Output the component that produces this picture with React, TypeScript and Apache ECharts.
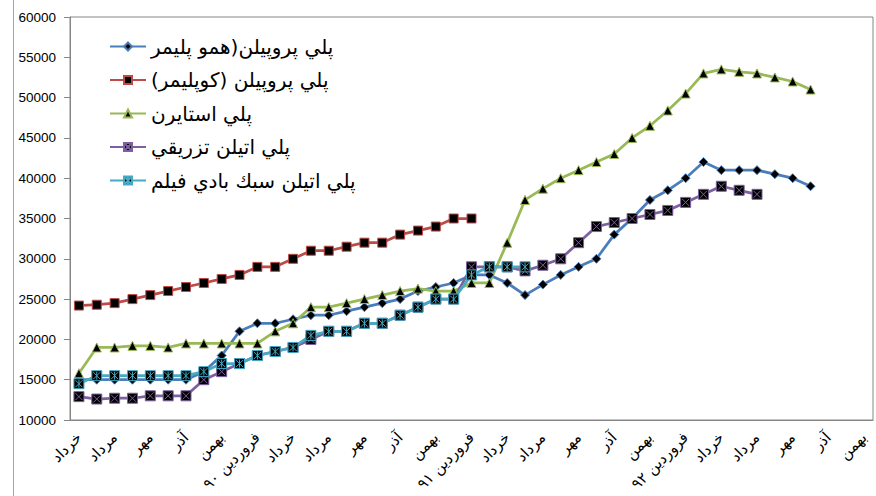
import { useEffect, useRef } from "react";
import * as echarts from "echarts";

// Monthly prices, Khordad 1389 through Bahman 1392
const months = [
  "خرداد", "تير", "مرداد", "شهريور", "مهر", "آبان", "آذر", "دي", "بهمن", "اسفند",
  "فروردين ۹۰", "ارديبهشت", "خرداد", "تير", "مرداد", "شهريور", "مهر", "آبان", "آذر", "دي", "بهمن", "اسفند",
  "فروردين ۹۱", "ارديبهشت", "خرداد", "تير", "مرداد", "شهريور", "مهر", "آبان", "آذر", "دي", "بهمن", "اسفند",
  "فروردين ۹۲", "ارديبهشت", "خرداد", "تير", "مرداد", "شهريور", "مهر", "آبان", "آذر", "دي", "بهمن",
];

const homoPP = [
  15000, 15000, 15000, 15000, 15000, 15000, 15000, 16000, 18000, 21000,
  22000, 22000, 22500, 23000, 23000, 23500, 24000, 24500, 25000, 26000,
  26500, 27000, 28000, 28000, 27000, 25500, 26800, 28000, 29000, 30000,
  33000, 35000, 37300, 38500, 40000, 42000, 41000, 41000, 41000, 40500,
  40000, 39000,
];

const copolymerPP = [
  24200, 24300, 24500, 25000, 25500, 26000, 26500, 27000, 27500, 28000,
  29000, 29000, 30000, 31000, 31000, 31500, 32000, 32000, 33000, 33500,
  34000, 35000, 35000,
];

const polystyrene = [
  15800, 19000, 19000, 19200, 19200, 19000, 19500, 19500, 19500, 19500,
  19500, 21000, 22000, 24000, 24000, 24500, 25000, 25500, 26000, 26300,
  26000, 26000, 27000, 27000, 32000, 37300, 38700, 40000, 41000, 42000,
  43000, 45000, 46500, 48400, 50500, 53000, 53500, 53200, 53000, 52500,
  52000, 51000,
];

const injectionPE = [
  12900, 12600, 12700, 12700, 13000, 13000, 13000, 15000, 16000, 17000,
  18000, 18500, 19000, 20000, 21000, 21000, 22000, 22000, 23000, 24000,
  25000, 25000, 29000, 29000, 29000, 28500, 29200, 30000, 32000, 34000,
  34500, 35000, 35500, 36000, 37000, 38000, 39000, 38500, 38000,
];

const filmPE = [
  14500, 15500, 15500, 15500, 15500, 15500, 15500, 16000, 17000, 17000,
  18000, 18500, 19000, 20500, 21000, 21000, 22000, 22000, 23000, 24000,
  25000, 25000, 28000, 29000, 29000, 29000,
];

const yMin = 10000;
const yMax = 60000;
const yStep = 5000;

// A trailing right-to-left mark keeps a closing parenthesis inside the RTL run
const seriesNames = [
  "پلي پروپيلن(همو پليمر",
  "پلي پروپيلن (كوپليمر)\u200F",
  "پلي استايرن",
  "پلي اتيلن تزريقي",
  "پلي اتيلن سبك بادي فيلم",
];

const crossBox = "path://M0,0H10V10H0Z M1.5,1.5L8.5,8.5 M8.5,1.5L1.5,8.5";
const starBox = "path://M0,0H10V10H0Z M1.5,1.5L8.5,8.5 M8.5,1.5L1.5,8.5 M5,1V9";

function lineSeries(name: string, data: number[], color: string, symbol: string, size: number) {
  return {
    type: "line",
    name,
    data,
    symbol,
    symbolSize: size,
    showAllSymbol: true,
    lineStyle: { color, width: 2.75 },
    itemStyle: { color: "#000000", borderColor: color, borderWidth: 1 },
    emphasis: { disabled: true },
  };
}

export default function App() {
  const ref = useRef<HTMLDivElement>(null);

  useEffect(() => {
    if (!ref.current) return;
    document.body.style.margin = "0";
    const chart = echarts.init(ref.current, undefined, { renderer: "svg" });
    const axisColor = "#868686";
    chart.setOption({
      animation: false,
      backgroundColor: "#ffffff",
      grid: {
        left: 70,
        right: 3,
        top: 17,
        bottom: 76,
        show: true,
        borderColor: axisColor,
        borderWidth: 1,
      },
      legend: {
        orient: "vertical",
        left: 109,
        top: 35,
        padding: 0,
        itemWidth: 36,
        itemHeight: 10,
        itemGap: 10.5,
        textStyle: {
          fontFamily: "DejaVu Sans",
          fontSize: 20,
          lineHeight: 23,
          color: "#000000",
        },
        data: seriesNames,
      },
      xAxis: {
        type: "category",
        data: months,
        boundaryGap: true,
        axisLine: { lineStyle: { color: axisColor, width: 1 } },
        axisTick: { interval: 2, length: 6, lineStyle: { color: axisColor } },
        axisLabel: {
          interval: 1,
          rotate: 45,
          margin: 15,
          fontFamily: "DejaVu Sans",
          fontSize: 15,
          color: "#000000",
        },
        splitLine: { show: false },
      },
      yAxis: {
        type: "value",
        min: yMin,
        max: yMax,
        interval: yStep,
        axisLine: { show: true, lineStyle: { color: axisColor, width: 1 } },
        axisTick: { show: true, length: 6, lineStyle: { color: axisColor } },
        axisLabel: {
          margin: 14,
          fontFamily: "Liberation Sans",
          fontSize: 13.5,
          color: "#000000",
          formatter: (v: number) => String(v),
        },
        splitLine: { show: false },
      },
      graphic: [
        {
          type: "line",
          shape: { x1: 13.5, y1: 0, x2: 13.5, y2: 496 },
          style: { stroke: "#a6a6a6", lineWidth: 1 },
        },
      ],
      series: [
        lineSeries(seriesNames[0], homoPP, "#4A7EBB", "diamond", 9),
        lineSeries(seriesNames[1], copolymerPP, "#BE4B48", "rect", 9),
        lineSeries(seriesNames[2], polystyrene, "#98B954", "triangle", 9),
        lineSeries(seriesNames[3], injectionPE, "#7D60A0", crossBox, 10),
        lineSeries(seriesNames[4], filmPE, "#46AAC5", starBox, 10),
      ],
    });
    return () => chart.dispose();
  }, []);

  return <div ref={ref} style={{ width: 876, height: 496 }} />;
}
